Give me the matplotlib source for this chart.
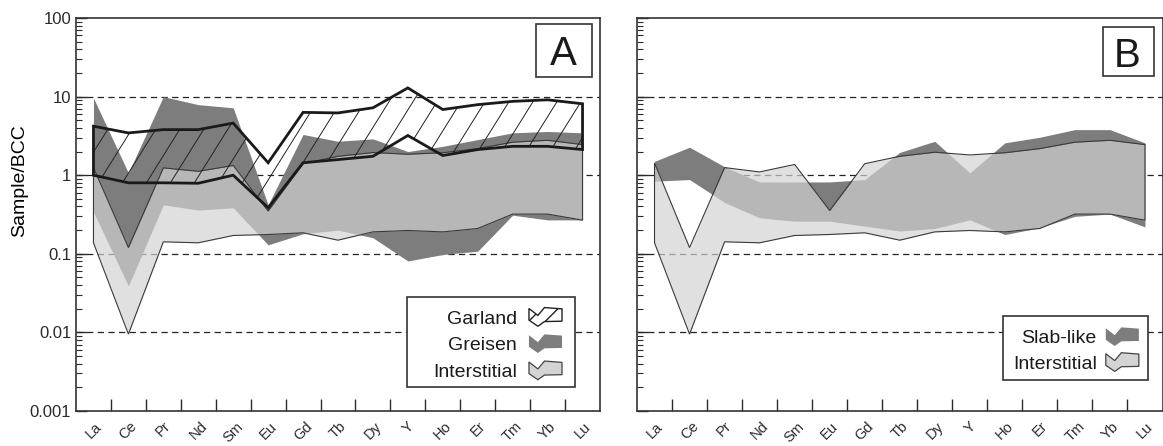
import numpy as np
import matplotlib
matplotlib.use("Agg")
from matplotlib import pyplot as plt
from matplotlib.patches import Polygon, Patch, Rectangle
from matplotlib.legend_handler import HandlerPatch
from matplotlib.ticker import NullFormatter

plt.rcParams['font.family'] = ['Liberation Sans', 'DejaVu Sans']
plt.rcParams['text.color'] = '#1a1a1a'
plt.rcParams['xtick.color'] = '#2a2a2a'
plt.rcParams['ytick.color'] = '#2a2a2a'

elements = ["La", "Ce", "Pr", "Nd", "Sm", "Eu", "Gd", "Tb", "Dy", "Y", "Ho", "Er", "Tm", "Yb", "Lu"]
ytick_vals = [0.001, 0.01, 0.1, 1, 10, 100]
ytick_text = ["0.001", "0.01", "0.1", "1", "10", "100"]
grid_levels = [10, 1, 0.1, 0.01]

# panel A: ranges (upper / lower envelopes)
garland_hi = [4.2, 3.45, 3.8, 3.8, 4.6, 1.44, 6.3, 6.2, 7.2, 12.9, 6.85, 7.9, 8.7, 9.1, 8.1]
garland_lo = [1.0, 0.8, 0.8, 0.79, 1.0, 0.385, 1.44, 1.58, 1.74, 3.2, 1.78, 2.12, 2.33, 2.33, 2.12]
greisen_hi = [9.6, 1.07, 10.0, 7.9, 7.2, 0.42, 3.3, 2.7, 2.9, 2.0, 2.33, 2.84, 3.46, 3.6, 3.46]
greisen_lo = [0.34, 0.039, 0.42, 0.36, 0.385, 0.13, 0.18, 0.2, 0.16, 0.081, 0.098, 0.108, 0.31, 0.27, 0.27]
inter_hi_A = [1.25, 0.12, 1.24, 1.12, 1.33, 0.35, 1.4, 1.74, 1.94, 1.85, 1.93, 2.18, 2.63, 2.78, 2.45]
inter_lo = [0.138, 0.0095, 0.142, 0.138, 0.171, 0.176, 0.185, 0.149, 0.19, 0.198, 0.19, 0.21, 0.32, 0.32, 0.268]

# panel B
inter_hi_B = [1.43, 0.12, 1.25, 1.1, 1.37, 0.355, 1.4, 1.74, 1.96, 1.81, 1.93, 2.18, 2.63, 2.78, 2.45]
slab_hi = [1.5, 2.27, 1.28, 0.82, 0.82, 0.82, 0.88, 1.95, 2.7, 1.07, 2.58, 3.04, 3.8, 3.8, 2.58]
slab_lo = [0.84, 0.88, 0.45, 0.287, 0.26, 0.26, 0.225, 0.195, 0.21, 0.27, 0.176, 0.215, 0.3, 0.32, 0.22]

dark = '#7d7d7d'
inter_c = (0.825, 0.825, 0.825)
inter_alpha = 0.69
x = np.arange(len(elements))


def zigzag(legend, orig_handle, xdescent, ydescent, width, height, fontsize):
    u = np.array([0, 0.27, 0.47, 1.0, 1.0, 0.47, 0.27, 0])
    v = np.array([0.95, 0.58, 1.0, 0.93, 0.27, 0.25, 0.0, 0.33])
    return Polygon(np.column_stack([u * width - xdescent, v * height - ydescent]), closed=True)


def style_axes(ax, show_labels):
    ax.set_yscale('log')
    ax.set_ylim(0.001, 100)
    ax.set_xlim(-0.5, 14.5)
    ax.set_xticks(x)
    ax.set_xticklabels(elements, rotation=45, ha='center', fontsize=10.5)
    ax.set_xticks(x[:-1] + 0.5, minor=True)
    ax.tick_params(axis='x', which='major', length=0, pad=6)
    ax.tick_params(axis='x', which='minor', direction='in', length=9, width=1.0)
    ax.set_yticks(ytick_vals)
    ax.set_yticklabels(ytick_text)
    ax.yaxis.set_minor_formatter(NullFormatter())
    ax.tick_params(axis='y', which='major', direction='in', length=8, width=1.0, labelsize=12, pad=3.5)
    ax.tick_params(axis='y', which='minor', direction='in', length=4, width=0.8)
    if not show_labels:
        ax.tick_params(axis='y', labelleft=False)
    for lev in grid_levels:
        ax.axhline(lev, color='#222222', lw=0.9, ls=(0, (5, 3.5)), zorder=0.5)
    for sp in ax.spines.values():
        sp.set_linewidth(1.2)
        sp.set_color('#333333')


def interstitial(ax, hi, lo):
    ax.fill_between(x, lo, hi, color=inter_c, alpha=inter_alpha, lw=0, zorder=2)
    verts = list(zip(x, hi)) + list(zip(x[::-1], lo[::-1]))
    ax.add_patch(Polygon(verts, closed=True, fc='none', ec='#3a3a3a', lw=0.8, zorder=3))


def letter(ax, s, box, tx, ty):
    x0, y0, x1, y1 = box
    ax.add_patch(Rectangle((x0, y0), x1 - x0, y1 - y0, transform=ax.transAxes,
                           fc='white', ec='#333333', lw=1.2, zorder=8))
    ax.text(tx, ty, s, transform=ax.transAxes, ha='center', va='baseline',
            fontsize=29, zorder=9)


def legend_box(ax, handles, labels, frame, anchor, spacing, textpad):
    x0, y0, x1, y1 = frame
    ax.add_patch(Rectangle((x0, y0), x1 - x0, y1 - y0, transform=ax.transAxes,
                           fc='white', ec='#333333', lw=1.2, zorder=9))
    leg = ax.legend(handles, labels, loc='lower right', bbox_to_anchor=anchor,
                    borderaxespad=0, borderpad=0, frameon=False, fontsize=14,
                    markerfirst=False, handlelength=1.7, handleheight=1.1,
                    handletextpad=textpad, labelspacing=spacing, handler_map=hmap)
    leg.set_zorder(10)
    return leg


fig = plt.figure(figsize=(11.63, 4.46), dpi=100)
axA = fig.add_axes([76 / 1163, 35 / 446, 524 / 1163, 393 / 446])
axB = fig.add_axes([637 / 1163, 35 / 446, 525.5 / 1163, 393 / 446])

style_axes(axA, True)
style_axes(axB, False)

hmap = {Patch: HandlerPatch(patch_func=zigzag)}
h_garland = Patch(facecolor='white', edgecolor='#222222', hatch='//', lw=1.0)
h_dark = Patch(facecolor=dark, edgecolor='none')
h_inter = Patch(facecolor='#d4d4d4', edgecolor='#444444', lw=0.9)

# panel A
axA.fill_between(x, greisen_lo, greisen_hi, color=dark, lw=0, zorder=1)
interstitial(axA, inter_hi_A, inter_lo)
g_verts = list(zip(x, garland_hi)) + list(zip(x[::-1], garland_lo[::-1]))
g_poly = Polygon(g_verts, closed=True, fc='none', ec='#1a1a1a', lw=2.0, zorder=6)
axA.add_patch(g_poly)
for k in range(-12, 24):
    x0 = k * 0.0458
    ln, = axA.plot([x0, x0 + 0.468], [0, 1], transform=axA.transAxes,
                   color='#222222', lw=0.7, zorder=5)
    ln.set_clip_path(g_poly)

axA.set_ylabel('Sample/BCC', fontsize=14)
axA.yaxis.set_label_coords(-0.0916, 0.585)
letter(axA, 'A', (0.878, 0.850, 0.985, 0.985), 0.931, 0.880)
legend_box(axA, [h_garland, h_dark, h_inter], ['Garland', 'Greisen', 'Interstitial'],
           (0.632, 0.061, 0.952, 0.29), (0.9275, 0.0763), 0.35, 0.62)

# panel B
axB.fill_between(x, slab_lo, slab_hi, color=dark, lw=0, zorder=1)
interstitial(axB, inter_hi_B, inter_lo)
letter(axB, 'B', (0.886, 0.852, 0.983, 0.977), 0.933, 0.876)
legend_box(axB, [h_dark, h_inter], ['Slab-like', 'Interstitial'],
           (0.697, 0.079, 0.973, 0.242), (0.955, 0.0975), 0.28, 0.46)

fig.savefig('out.png', dpi=100)
